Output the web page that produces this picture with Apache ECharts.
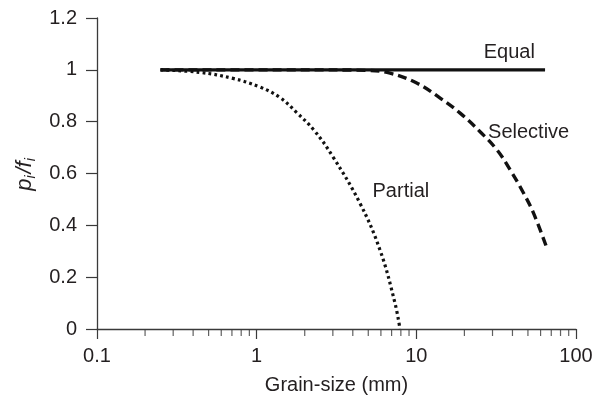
<!DOCTYPE html>
<html>
<head>
<meta charset="utf-8">
<script src="https://cdn.jsdelivr.net/npm/echarts@6/dist/echarts.min.js"></script>
<style>
html,body{margin:0;padding:0;background:#fff;}
#c{width:602px;height:403px;}
</style>
</head>
<body>
<div id="c"></div>
<script>
// ---- data ----
var equalX = [0.25, 64];
var equalY = [1, 1];

var selectiveX = [0.25, 2, 4.88, 6.84, 10.06, 14.1, 18.8, 25.0, 32.0, 38.7, 47.0, 54.2, 65.2];
var selectiveY = [1, 1, 0.998, 0.987, 0.949, 0.891, 0.833, 0.762, 0.691, 0.614, 0.524, 0.447, 0.318];

var partialX = [0.25, 0.44, 0.71, 1.045, 1.4, 1.775, 2.3, 3.0, 4.43, 5.92, 7.35, 7.9];
var partialY = [1.0, 0.99, 0.967, 0.934, 0.893, 0.836, 0.765, 0.665, 0.486, 0.305, 0.10, 0.0];

var minorTickValues = [0.2,0.3,0.4,0.5,0.6,0.7,0.8,0.9, 2,3,4,5,6,7,8,9, 20,30,40,50,60,70,80,90];
var xTickLabels = ['0.1', '1', '10', '100'];
var yTicks = [0, 0.2, 0.4, 0.6, 0.8, 1, 1.2];

function zip(xs, ys) { return xs.map(function (x, i) { return [x, ys[i]]; }); }

var FONT = '"Liberation Sans", Arial, Helvetica, sans-serif';
var TXT = '#231f20';
var AX = '#3a3a3a';

var chart = echarts.init(document.getElementById('c'), null, {renderer: 'canvas'});
chart.setOption({
  animation: false,
  backgroundColor: '#ffffff',
  textStyle: {fontFamily: FONT},
  grid: {left: 97, right: 26, top: 18, bottom: 74, containLabel: false},
  xAxis: {
    type: 'log', logBase: 10, min: 0.1, max: 100,
    name: 'Grain-size (mm)', nameLocation: 'middle', nameGap: 46,
    nameTextStyle: {fontSize: 20, color: TXT, fontFamily: FONT},
    axisLine: {show: true, onZero: false, lineStyle: {color: AX, width: 1.3}},
    axisTick: {show: true, length: 10, lineStyle: {color: AX, width: 1.2}},
    axisLabel: {fontSize: 20, color: TXT, margin: 17, fontFamily: FONT,
      formatter: function (v) {
        var i = Math.round(Math.log10(v)) + 1;
        return xTickLabels[i] !== undefined ? xTickLabels[i] : '';
      }},
    splitLine: {show: false}
  },
  yAxis: {
    type: 'value', min: yTicks[0], max: yTicks[yTicks.length - 1], interval: 0.2,
    name: '{a|p}{s|i}{a|/}{a|f}{s|i}', nameLocation: 'middle', nameGap: 58, nameRotate: 90,
    nameTextStyle: {
      color: TXT, fontFamily: FONT, fontSize: 21, fontStyle: 'italic',
      rich: {
        a: {fontSize: 22, fontStyle: 'italic', color: TXT, fontFamily: FONT, lineHeight: 26, verticalAlign: 'middle'},
        s: {fontSize: 14, fontStyle: 'italic', color: TXT, fontFamily: FONT, lineHeight: 12, verticalAlign: 'bottom', padding: [12, 2, 0, 0]}
      }
    },
    axisLine: {show: true, lineStyle: {color: AX, width: 1.3}},
    axisTick: {show: true, length: 11, lineStyle: {color: AX, width: 1.2}},
    axisLabel: {fontSize: 20, color: TXT, margin: 20, fontFamily: FONT,
      formatter: function (v) { return String(Math.round(v * 10) / 10); }},
    splitLine: {show: false}
  },
  series: [
    {
      name: 'minorTicks', type: 'scatter', silent: true, clip: false,
      symbol: 'rect', symbolSize: [1.2, 6], symbolOffset: [0, 4],
      itemStyle: {color: AX},
      data: minorTickValues.map(function (v) { return [v, 0]; }),
      z: 5
    },
    {
      name: 'Partial', type: 'line', data: zip(partialX, partialY),
      showSymbol: false, symbol: 'none', smooth: 0.4, clip: false,
      lineStyle: {color: '#111', width: 3.2, type: [2.8, 3.2], cap: 'butt'},
      markPoint: {
        symbol: 'circle', symbolSize: 0, silent: true,
        label: {show: true, position: 'inside', formatter: 'Partial', fontSize: 20, color: TXT, fontFamily: FONT},
        data: [{coord: [8.0, 0.529]}]
      },
      z: 2
    },
    {
      name: 'Selective', type: 'line', data: zip(selectiveX, selectiveY),
      showSymbol: false, symbol: 'none', smooth: 0.4, clip: false,
      lineStyle: {color: '#111', width: 3.4, type: [9, 5], cap: 'butt'},
      markPoint: {
        symbol: 'circle', symbolSize: 0, silent: true,
        label: {show: true, position: 'inside', formatter: 'Selective', fontSize: 20, color: TXT, fontFamily: FONT},
        data: [{coord: [50.5, 0.76]}]
      },
      z: 2
    },
    {
      name: 'Equal', type: 'line', data: zip(equalX, equalY),
      showSymbol: false, symbol: 'none', clip: false,
      lineStyle: {color: '#111', width: 3.4, type: 'solid', cap: 'butt'},
      markPoint: {
        symbol: 'circle', symbolSize: 0, silent: true,
        label: {show: true, position: 'inside', formatter: 'Equal', fontSize: 20, color: TXT, fontFamily: FONT},
        data: [{coord: [38.2, 1.066]}]
      },
      z: 3
    }
  ]
});
</script>
</body>
</html>
